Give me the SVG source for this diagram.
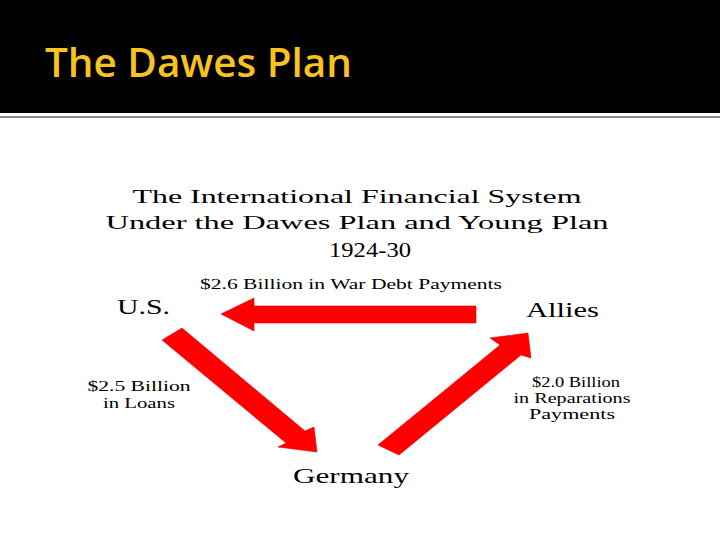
<svg xmlns="http://www.w3.org/2000/svg" width="720" height="540" viewBox="0 0 720 540">
  <style>
    .serif { font-family: "Liberation Serif", "Times New Roman", serif; fill: #000; }
    .node { font-size: 21px; }
    .lbl { font-size: 14px; }
    .head { font-size: 19px; }
    .arrow { fill: #FF0000; stroke: #E00000; stroke-width: 0.6; stroke-linejoin: miter; }
  </style>
  <rect x="0" y="0" width="720" height="540" fill="#FFFFFF"/>
  <g id="title-bar">
    <rect x="0" y="0" width="720" height="113" fill="#000000"/>
    <line x1="0" y1="117" x2="720" y2="117" stroke="#666666" stroke-width="1.6"/>
    <text x="45" y="77" font-family="'Open Sans', 'Noto Sans', sans-serif" font-size="40" font-weight="600" fill="#F9C31F" textLength="307" lengthAdjust="spacingAndGlyphs">The Dawes Plan</text>
  </g>
  <g id="chart-title" class="serif head" text-anchor="middle">
    <text x="357" y="203" textLength="449" lengthAdjust="spacingAndGlyphs">The International Financial System</text>
    <text x="357" y="229" textLength="503" lengthAdjust="spacingAndGlyphs">Under the Dawes Plan and Young Plan</text>
    <text x="370" y="257" font-size="21" textLength="82" lengthAdjust="spacingAndGlyphs">1924-30</text>
  </g>
  <g id="connectors">
    <g id="edge-allies-us">
      <polygon class="arrow" points="476,306 254,306 254,298 221,314 254,331 254,323 476,323"/>
      <text class="serif lbl" x="351" y="289" text-anchor="middle" textLength="302" lengthAdjust="spacingAndGlyphs">$2.6 Billion in War Debt Payments</text>
    </g>
    <g id="edge-us-germany">
      <polygon class="arrow" points="182,328 305,431 314,427 317,452 278,447 286,443 162,340"/>
      <text class="serif lbl" x="139" y="391" text-anchor="middle" textLength="103" lengthAdjust="spacingAndGlyphs">$2.5 Billion</text>
      <text class="serif lbl" x="139" y="408" text-anchor="middle" textLength="72" lengthAdjust="spacingAndGlyphs">in Loans</text>
    </g>
    <g id="edge-germany-allies">
      <polygon class="arrow" points="378,445 500,345 490,338 528,333 531,358 521,355 399,455"/>
      <text class="serif lbl" x="576" y="387" text-anchor="middle" textLength="88" lengthAdjust="spacingAndGlyphs">$2.0 Billion</text>
      <text class="serif lbl" x="572" y="403" text-anchor="middle" textLength="117" lengthAdjust="spacingAndGlyphs">in Reparations</text>
      <text class="serif lbl" x="572" y="419" text-anchor="middle" textLength="86" lengthAdjust="spacingAndGlyphs">Payments</text>
    </g>
  </g>
  <g id="node-us">
    <text class="serif node" x="117" y="314" textLength="53" lengthAdjust="spacingAndGlyphs">U.S.</text>
  </g>
  <g id="node-allies">
    <text class="serif node" x="526" y="317" textLength="73" lengthAdjust="spacingAndGlyphs">Allies</text>
  </g>
  <g id="node-germany">
    <text class="serif node" x="293" y="483" font-size="22" textLength="116" lengthAdjust="spacingAndGlyphs">Germany</text>
  </g>
</svg>
